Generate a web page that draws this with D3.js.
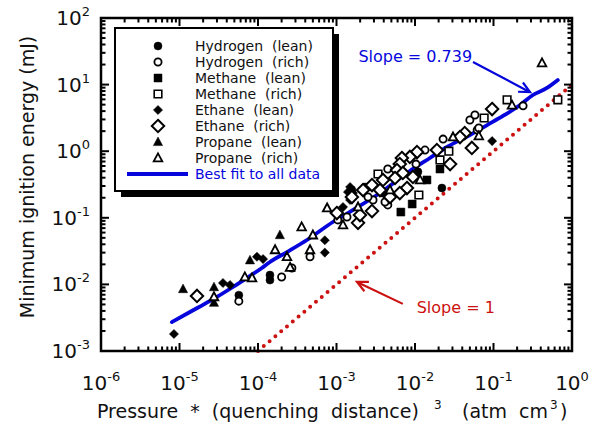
<!DOCTYPE html>
<html><head><meta charset="utf-8">
<script src="https://cdn.jsdelivr.net/npm/d3@7"></script>
<style>
body{margin:0;background:#fff;}
svg{display:block;font-family:"DejaVu Sans",sans-serif;}
text{white-space:pre;}
</style></head><body>
<svg id="c" width="589" height="424"></svg>
<script>
// ---- data: [P*d^3 (atm cm^3), minimum ignition energy (mJ)] ----
const hydrogenLean = [[5.7e-5,0.0069],[1.42e-4,0.0138],[1.42e-4,0.0116],[1.09e-2,0.49],[2.2e-2,0.28],[3.8e-3,0.235],
  [1.57e-3,0.261],[2.31e-3,0.29]];
const hydrogenRich = [[5.7e-5,0.0056],[2.0e-4,0.0129],[2.7e-4,0.0176],[4.6e-4,0.026],[1.04e-3,0.093],[1.36e-3,0.103],
  [0.238,4.8],[5.0e-2,2.94],[5.8e-2,3.5],[6.2e-2,2.08],[6.5e-2,2.23],[2.28e-2,1.52],[1.34e-2,1.04],[1.03e-2,0.64],[4.5e-3,0.54],
  [4.5e-3,0.156],[4.15e-3,0.173],[2.92e-3,0.185],[2.52e-3,0.205]];
const methaneLean = [[2.08e-2,0.54],[1.42e-2,0.37],[9.2e-3,0.161],[6.6e-3,0.122]];
const methaneRich = [[0.66,5.9],[0.149,5.9],[7.6e-2,3.15],[2.7e-2,1.0],[2.08e-2,0.74],[3.38e-3,0.455],[1.12e-2,0.22]];
const ethaneLean = [[8.5e-6,0.0018],[3.58e-5,0.0105],[4.4e-5,0.0098],[9.7e-5,0.026],[1.16e-4,0.024],[7.1e-4,0.046],
  [7.1e-4,0.030],[1.40e-3,0.244],[9.6e-2,1.42],[1.49e-3,0.29],[1.62e-3,0.235],[1.49e-3,0.185],[1.21e-3,0.145]];
const ethaneRich = [[1.67e-5,0.0067],[1.01e-3,0.118],[9.6e-2,4.3],[4.3e-2,1.87],[3.74e-2,1.63],[5.3e-2,1.12],[1.9e-2,1.04],
  [1.06e-2,0.97],[8.6e-3,0.82],[6.8e-3,0.79],[2.8e-2,0.64],[6.4e-3,0.64],[5.9e-3,0.52],[9.4e-3,0.41],[2.83e-3,0.126],[1.88e-3,0.084],
  [2.18e-3,0.261],[2.83e-3,0.31],[3.91e-3,0.37],[3.58e-3,0.261],[7.0e-3,0.471],[7.9e-3,0.28],[6.4e-3,0.235],[1.99e-3,0.110],[4.8e-3,0.205],
  [1.57e-3,0.205],[5.56e-3,0.396]];
const propaneLean = [[1.11e-5,0.0085],[2.75e-5,0.0091],[2.75e-5,0.0053],[7.9e-5,0.023],[1.9e-4,0.055]];
const propaneRich = [[2.75e-5,0.0065],[6.8e-5,0.0129],[8.4e-5,0.0125],[1.65e-4,0.033],[2.34e-4,0.026],[2.56e-4,0.018],
  [3.6e-4,0.073],[4.6e-4,0.033],[5.0e-4,0.055],[7.6e-4,0.140],[0.415,21.1],[0.172,4.9],[6.5e-2,1.69],[3.05e-2,1.63],
  [1.16e-2,0.37],[1.21e-3,0.078],[1.88e-3,0.145],[4.8e-3,0.261]];
// best fit (as drawn)
const fitX = [8.0e-6,1.36e-5,2.45e-5,4.8e-5,7.2e-5,1.12e-4,1.42e-4,2.34e-4,4.2e-4,9.0e-4,1.40e-3,3.58e-3,8.6e-3,1.55e-2,2.56e-2,5.0e-2,8.3e-2,0.132,0.218,0.318,0.48,0.66];
const fitY = [0.00272,0.00385,0.00564,0.00914,0.01247,0.0176,0.0217,0.0306,0.0464,0.0865,0.118,0.2355,0.505,0.791,1.156,1.75,2.47,3.38,4.94,6.98,8.9,11.7];
// slope = 1 reference line
const refX = [1e-4, 1];
const refY = [1e-3, 10];
// axis tick exponents
const xExp = [-6,-5,-4,-3,-2,-1,0];
const yExp = [-3,-2,-1,0,1,2];
const legendLabels = ["Hydrogen  (lean)","Hydrogen  (rich)","Methane  (lean)","Methane  (rich)","Ethane  (lean)","Ethane  (rich)","Propane  (lean)","Propane  (rich)"];
const symbolTypes = ["circleF","circleO","squareF","squareO","diamondF","diamondO","triF","triO"];
const seriesData = [hydrogenLean,hydrogenRich,methaneLean,methaneRich,ethaneLean,ethaneRich,propaneLean,propaneRich];

const BLUE="#0606dc", RED="#cc1111";
const W=589,H=424,m={l:101,r:17,t:18,b:73};
const svg=d3.select("#c");
const x=d3.scaleLog().domain([1e-6,1]).range([m.l,W-m.r]);
const y=d3.scaleLog().domain([1e-3,100]).range([H-m.b,m.t]);

function symPath(t){
  switch(t){
    case "circleF": return {d:"M4,0A4,4 0 1,1 -4,0A4,4 0 1,1 4,0Z",fill:true};
    case "circleO": return {d:"M3.6,0A3.6,3.6 0 1,1 -3.6,0A3.6,3.6 0 1,1 3.6,0Z",fill:false,sw:1.8};
    case "squareF": return {d:"M-4,-4H4V4H-4Z",fill:true};
    case "squareO": return {d:"M-3.8,-3.8H3.8V3.8H-3.8Z",fill:false,sw:1.6};
    case "diamondF": return {d:"M0,-4.6L4.6,0L0,4.6L-4.6,0Z",fill:true};
    case "diamondO": return {d:"M0,-6.2L6.2,0L0,6.2L-6.2,0Z",fill:false,sw:2};
    case "triF": return {d:"M0,-5L4.6,3.6H-4.6Z",fill:true};
    case "triO": return {d:"M0,-4.6L4.3,3.4H-4.3Z",fill:false,sw:1.8};
  }
}
function drawSym(g,t,tx,ty){
  const s=symPath(t);
  g.append("path").attr("d",s.d).attr("transform",`translate(${tx},${ty})`)
   .attr("fill",s.fill?"#000":"#fff").attr("stroke","#000").attr("stroke-width",s.fill?0.5:s.sw)
   .attr("stroke-linejoin","miter");
}

// reference slope=1 line (dotted red)
const refLine=d3.line().x((d,i)=>x(refX[i])).y((d,i)=>y(refY[i]));
svg.append("path").attr("d",refLine(refX)).attr("fill","none").attr("stroke",RED)
  .attr("stroke-width",4).attr("stroke-linecap","round").attr("stroke-dasharray","0 7.6");

// best fit line
const fitLine=d3.line().x((d,i)=>x(fitX[i])).y((d,i)=>y(fitY[i])).curve(d3.curveMonotoneX);
svg.append("path").attr("d",fitLine(fitX)).attr("fill","none").attr("stroke",BLUE)
  .attr("stroke-width",3.8).attr("stroke-linejoin","round").attr("stroke-linecap","round");

// points
const pts=svg.append("g");
seriesData.forEach((arr,i)=>{arr.forEach(d=>drawSym(pts,symbolTypes[i],x(d[0]),y(d[1])));});

// axes (inward ticks on all four sides)
const isMajor=v=>Math.abs(Math.log10(v)-Math.round(Math.log10(v)))<1e-9;
const xt=x.ticks(), yt=y.ticks();
const ax=svg.append("g").attr("stroke","#000").attr("stroke-width",2);
xt.forEach(v=>{const L=isMajor(v)?8:4.5, px=x(v);
  ax.append("line").attr("x1",px).attr("x2",px).attr("y1",y.range()[0]).attr("y2",y.range()[0]-L);
  ax.append("line").attr("x1",px).attr("x2",px).attr("y1",y.range()[1]).attr("y2",y.range()[1]+L);});
yt.forEach(v=>{const L=isMajor(v)?8:4.5, py=y(v);
  ax.append("line").attr("y1",py).attr("y2",py).attr("x1",x.range()[0]).attr("x2",x.range()[0]+L);
  ax.append("line").attr("y1",py).attr("y2",py).attr("x1",x.range()[1]).attr("x2",x.range()[1]-L);});
svg.append("rect").attr("x",m.l).attr("y",m.t).attr("width",W-m.r-m.l).attr("height",H-m.b-m.t)
  .attr("fill","none").attr("stroke","#000").attr("stroke-width",2.5);

// tick labels
xExp.forEach(e=>{
  const t=svg.append("text").attr("x",x(Math.pow(10,e))).attr("y",390).attr("text-anchor","middle")
    .attr("font-size",20).attr("fill","#111");
  t.append("tspan").text("10");
  t.append("tspan").attr("dy",-9).attr("font-size",13).text(e===0?"0":"-"+Math.abs(e));
});
yExp.forEach(e=>{
  const t=svg.append("text").attr("x",90).attr("y",y(Math.pow(10,e))+7).attr("text-anchor","end")
    .attr("font-size",20).attr("fill","#111");
  t.append("tspan").text("10");
  t.append("tspan").attr("dy",-9).attr("font-size",13).text(e<0?"-"+Math.abs(e):String(e));
});

// axis titles
const tg=svg.append("g").attr("font-size",19).attr("fill","#111");
tg.append("text").attr("x",97).attr("y",418).text("Pressure  *  (quenching  distance)");
tg.append("text").attr("x",434).attr("y",409).attr("font-size",12).text("3");
tg.append("text").attr("x",462).attr("y",418).text("(atm");
tg.append("text").attr("x",519).attr("y",418).text("cm");
tg.append("text").attr("x",550).attr("y",409).attr("font-size",12).text("3");
tg.append("text").attr("x",560).attr("y",418).text(")");
svg.append("text").attr("transform","translate(34,177) rotate(-90)").attr("text-anchor","middle")
  .attr("font-size",19).attr("fill","#111").text("Minimum ignition energy (mJ)");

// legend
const lg=svg.append("g");
lg.append("rect").attr("x",121).attr("y",34).attr("width",218).attr("height",163).attr("fill","#000");
lg.append("rect").attr("x",115).attr("y",28).attr("width",218).attr("height",163).attr("fill","#fff")
  .attr("stroke","#000").attr("stroke-width",2);
legendLabels.forEach((lab,i)=>{
  const yy=46+i*16;
  drawSym(lg,symbolTypes[i],158,yy);
  lg.append("text").attr("x",195).attr("y",yy+5).attr("font-size",14).attr("fill","#111").text(lab);
});
lg.append("line").attr("x1",127).attr("x2",188).attr("y1",174).attr("y2",174).attr("stroke",BLUE).attr("stroke-width",3.8);
lg.append("text").attr("x",195).attr("y",179).attr("font-size",14).attr("fill",BLUE).text("Best fit to all data");

// annotations
function arrow(x1,y1,x2,y2,col){
  const a=Math.atan2(y2-y1,x2-x1), L=12, s=0.45;
  svg.append("path").attr("d",`M${x1},${y1}L${x2},${y2}M${x2-L*Math.cos(a-s)},${y2-L*Math.sin(a-s)}L${x2},${y2}L${x2-L*Math.cos(a+s)},${y2-L*Math.sin(a+s)}`)
    .attr("fill","none").attr("stroke",col).attr("stroke-width",2.2);
}
arrow(x(0.0548),y(21.8),x(0.292),y(7.7),BLUE);
svg.append("text").attr("x",x(0.0019)).attr("y",y(21.8)).attr("font-size",16).attr("fill",BLUE).text("Slope = 0.739");
arrow(x(7.0e-3),y(0.0051),x(1.82e-3),y(0.0109),RED);
svg.append("text").attr("x",x(1.05e-2)).attr("y",y(0.0051)+9).attr("font-size",16).attr("fill",RED).text("Slope = 1");
</script></body></html>
